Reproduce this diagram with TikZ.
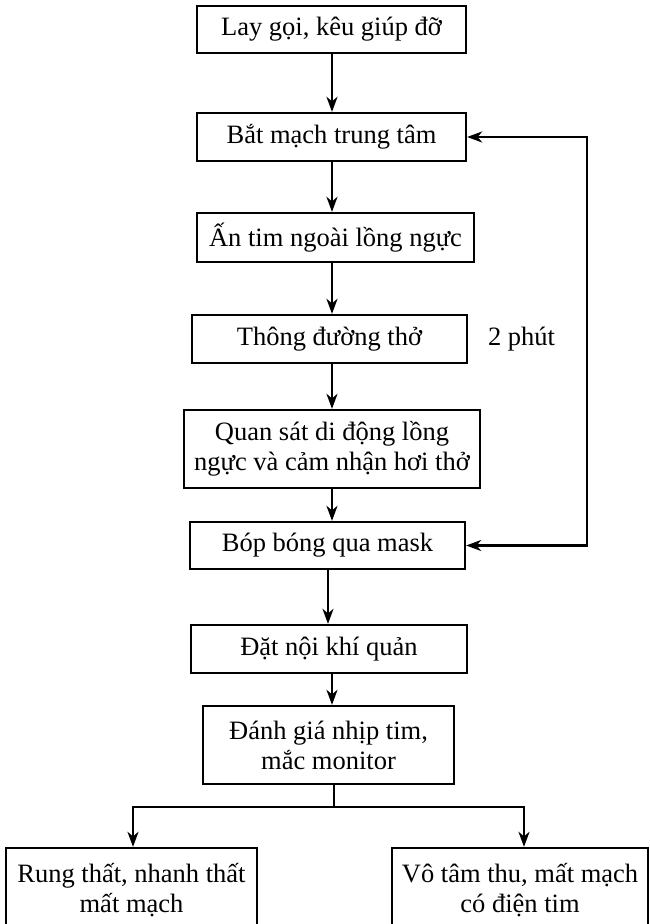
\documentclass[tikz,border=0pt]{standalone}
\usepackage{fontspec}
\setmainfont{Liberation Serif}
\usetikzlibrary{arrows.meta,calc}

\tikzset{
  stepbox/.style={draw, line width=2.3pt, inner sep=0pt, align=center,
    font=\fontsize{26.5}{30}\selectfont},
  plain/.style={inner sep=0pt, font=\fontsize{26.5}{30}\selectfont},
  tip/.style={},
  link/.style={line width=2.3pt, -{Stealth[length=15pt,width=11pt,inset=4.5pt]}},
  looplink/.style={line width=2.3pt,
    {Stealth[length=15pt,width=11pt,inset=4.5pt]}-{Stealth[length=15pt,width=11pt,inset=4.5pt]}},
}

\begin{document}
\begin{tikzpicture}[x=1pt,y=-1pt]
  \useasboundingbox[fill=white] (0,0) rectangle (650,924);

  % main column of steps
  \node[stepbox, minimum width=269pt, minimum height=47pt] (b1) at (331.5,29.5) {Lay gọi, kêu giúp đỡ};
  \node[stepbox, minimum width=269pt, minimum height=48pt] (b2) at (331.5,137) {Bắt mạch trung tâm};
  \node[stepbox, minimum width=277pt, minimum height=49pt] (b3) at (335.5,237.5) {Ấn tim ngoài lồng ngực};
  \node[stepbox, minimum width=275pt, minimum height=48pt] (b4) at (329.5,339) {Thông đường thở};
  \node[stepbox, minimum width=296pt, minimum height=78pt] (b5) at (332,449) {Quan sát di động lồng\\ngực và cảm nhận hơi thở};
  \node[stepbox, minimum width=275pt, minimum height=47pt] (b6) at (327.5,545.5) {Bóp bóng qua mask};
  \node[stepbox, minimum width=276pt, minimum height=48pt] (b7) at (329,649) {Đặt nội khí quản};
  \node[stepbox, minimum width=251pt, minimum height=78pt] (b8) at (328.5,745) {Đánh giá nhịp tim,\\mắc monitor};

  % the two outcomes (boxes run past the lower edge)
  \node[stepbox, minimum width=251pt, minimum height=84pt] (b9) at (131.5,890) {Rung thất, nhanh thất\\mất mạch};
  \node[stepbox, minimum width=256pt, minimum height=84pt] (b10) at (520,890) {Vô tâm thu, mất mạch\\có điện tim};

  % side note
  \node[plain] (t2) at (521.5,339) {2 phút};

  % helper coordinates
  \coordinate (spine) at (332,0);
  \coordinate (loopx) at (587,0);
  \coordinate (fork) at (334,807);

  % vertical flow
  \draw[link] (spine |- b1.south) -- (spine |- b2.north);
  \draw[link] (spine |- b2.south) -- (spine |- b3.north);
  \draw[link] (spine |- b3.south) -- (spine |- b4.north);
  \draw[link] (spine |- b4.south) -- (spine |- b5.north);
  \draw[link] (spine |- b5.south) -- (spine |- b6.north);
  \draw[link] ([xshift=-4pt]spine |- b6.south) -- ([xshift=-4pt]spine |- b7.north);
  \draw[link] (spine |- b7.south) -- (spine |- b8.north);

  % repeat loop between the pulse check and bag ventilation
  \draw[looplink] (b6.east) -- (loopx |- b6.east) -- (loopx |- b2.east) -- (b2.east);

  % branching to the two outcomes
  \draw[line width=2.3pt] (fork |- b8.south) -- (fork);
  \draw[link] (fork) -| ([xshift=1.5pt]b9.north);
  \draw[link] (fork) -| ([xshift=4pt]b10.north);
\end{tikzpicture}
\end{document}
